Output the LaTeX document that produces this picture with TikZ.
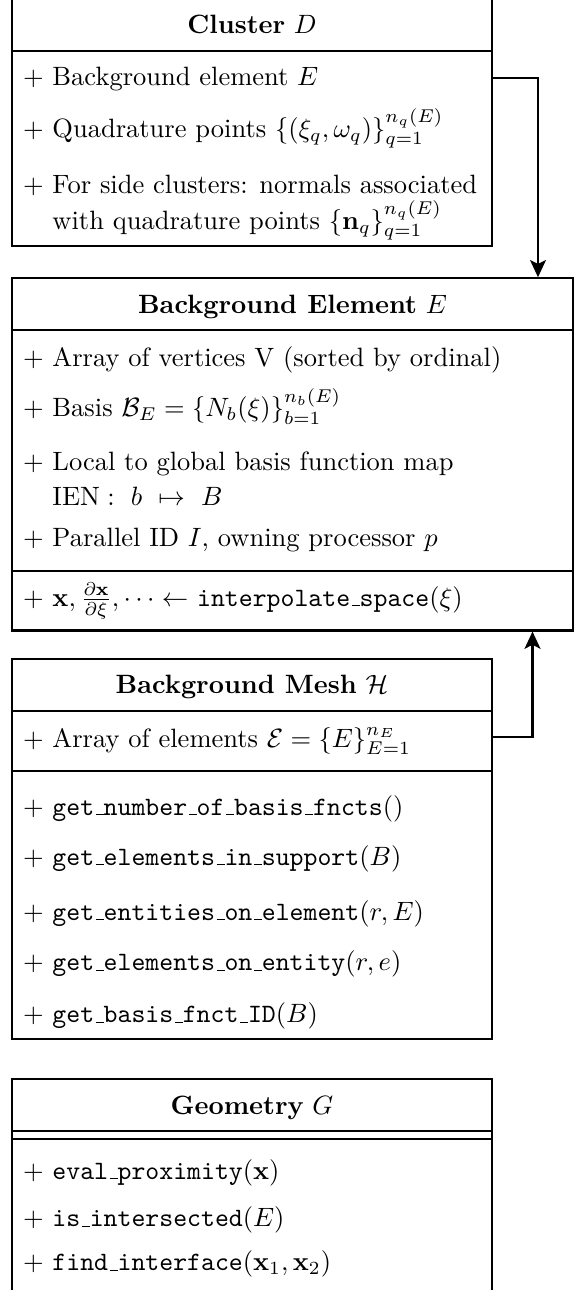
\documentclass[tikz,border=0pt]{standalone}
\usetikzlibrary{arrows.meta,fit}
\newcommand\us{\leavevmode\kern.06em\vbox{\hrule width.3em}}
\tikzset{
  ln/.style={line width=0.8pt},
  boxs/.style={draw, line width=0.8pt, inner sep=0pt},
  item/.style={anchor=base west, inner sep=0pt},
  head/.style={anchor=base, inner sep=0pt},
  conn/.style={line width=0.8pt, -{Stealth[length=6.5pt,width=6pt,inset=1.5pt]}}
}
\begin{document}
\begin{tikzpicture}[x=0.3774pt,y=-0.3774pt]
\useasboundingbox (0,0) rectangle (579,1290);
\clip (0,0) rectangle (579,1290);
% ---------- Cluster D
\coordinate (ca) at (12.3,-20); \coordinate (cb) at (492,246);
\node[boxs, fit=(ca)(cb)] (cluster) {};
\draw[ln] (cluster.west |- 0,50.7) -- (cluster.east |- 0,50.7);
\node[head] (clh) at (252,34) {\textbf{Cluster} $D$};
\node[item] (cl1) at (22.5,85.7) {$+$ Background element $E$};
\node[item] (cl2) at (22.5,137.3) {$+$ Quadrature points $\{(\xi_q,\omega_q)\}_{q=1}^{n_q(E)}$};
\node[item] (cl3) at (22.5,194) {$+$ For side clusters: normals associated};
\node[item] (cl4) at (22.5,229.3) {\hphantom{$+$ }with quadrature points $\{\mathbf{n}_q\}_{q=1}^{n_q(E)}$};
% ---------- Background Element E
\coordinate (ea) at (12.3,278.3); \coordinate (eb) at (572.7,630.5);
\node[boxs, fit=(ea)(eb)] (element) {};
\draw[ln] (element.west |- 0,330) -- (element.east |- 0,330);
\draw[ln] (element.west |- 0,571) -- (element.east |- 0,571);
\node[head] (elh) at (292.5,314) {\textbf{Background Element} $E$};
\node[item] (el1) at (22.5,366) {$+$ Array of vertices V (sorted by ordinal)};
\node[item] (el2) at (22.5,416.7) {$+$ Basis $\mathcal{B}_E=\{N_b(\xi)\}_{b=1}^{n_b(E)}$};
\node[item] (el3) at (22.5,470) {$+$ Local to global basis function map};
\node[item] (el4) at (22.5,505) {\hphantom{$+$ }$\mathrm{IEN}:\ b\ \mapsto\ B$};
\node[item] (el5) at (22.5,546.7) {$+$ Parallel ID $I$, owning processor $p$};
\node[item] (el6) at (22.5,606) {$+$ $\mathbf{x},\frac{\partial\mathbf{x}}{\partial\xi},\cdots\leftarrow$ \texttt{interpolate\us space}$(\xi)$};
% ---------- Background Mesh H
\coordinate (ma) at (12.3,659); \coordinate (mb) at (492,1038.7);
\node[boxs, fit=(ma)(mb)] (mesh) {};
\draw[ln] (mesh.west |- 0,711) -- (mesh.east |- 0,711);
\draw[ln] (mesh.west |- 0,770.7) -- (mesh.east |- 0,770.7);
\node[head] (meh) at (252,693.3) {\textbf{Background Mesh} $\mathcal{H}$};
\node[item] (me1) at (22.5,747) {$+$ Array of elements $\mathcal{E}=\{E\}_{E=1}^{n_E}$};
\node[item] (me2) at (22.5,815) {$+$ \texttt{get\us number\us of\us basis\us fncts}$()$};
\node[item] (me3) at (22.5,865) {$+$ \texttt{get\us elements\us in\us support}$(B)$};
\node[item] (me4) at (22.5,920) {$+$ \texttt{get\us entities\us on\us element}$(r,E)$};
\node[item] (me5) at (22.5,970.7) {$+$ \texttt{get\us elements\us on\us entity}$(r,e)$};
\node[item] (me6) at (22.5,1022.7) {$+$ \texttt{get\us basis\us fnct\us ID}$(B)$};
% ---------- Geometry G
\coordinate (ga) at (12.3,1079.3); \coordinate (gb) at (492,1310);
\node[boxs, fit=(ga)(gb)] (geom) {};
\draw[ln] (geom.west |- 0,1131) -- (geom.east |- 0,1131);
\draw[ln] (geom.west |- 0,1139) -- (geom.east |- 0,1139);
\node[head] (geh) at (252,1114) {\textbf{Geometry} $G$};
\node[item] (ge1) at (22.5,1179) {$+$ \texttt{eval\us proximity}$(\mathbf{x})$};
\node[item] (ge2) at (22.5,1226.7) {$+$ \texttt{is\us intersected}$(E)$};
\node[item] (ge3) at (22.5,1270.7) {$+$ \texttt{find\us interface}$(\mathbf{x}_1,\mathbf{x}_2)$};
% ---------- connectors
\coordinate (k1) at (538,77.7);
\coordinate (k2) at (532.5,737.3);
\draw[conn] (k1 -| cluster.east) -- (k1) -- (k1 |- element.north);
\draw[conn] (k2 -| mesh.east) -- (k2) -- (k2 |- element.south);
\end{tikzpicture}
\end{document}
